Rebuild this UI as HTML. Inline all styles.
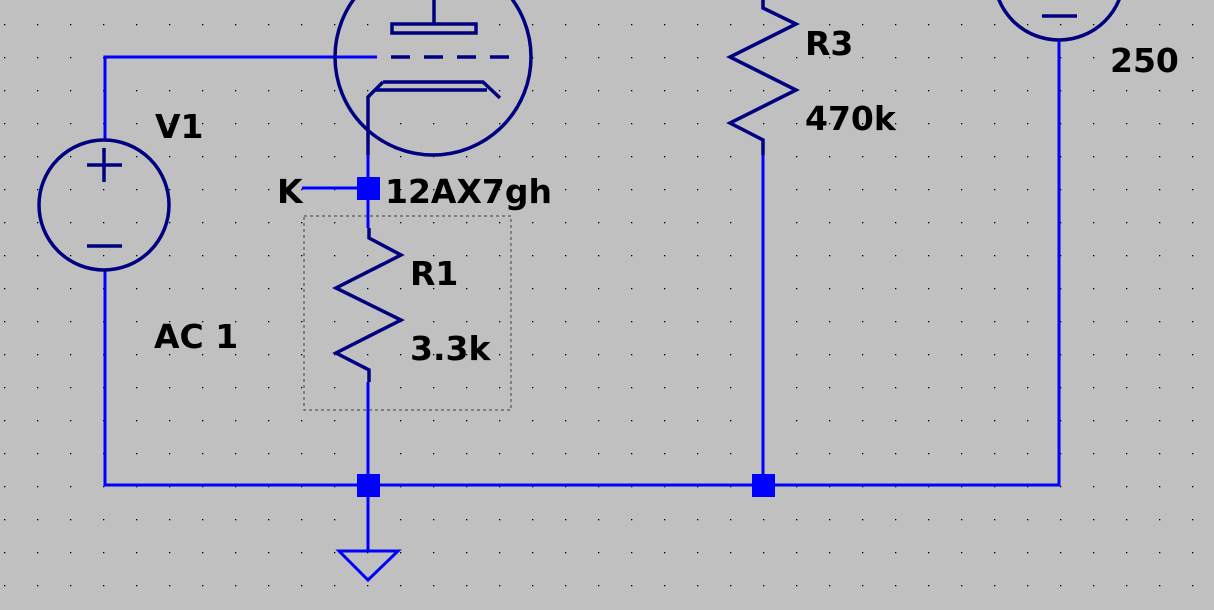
<!DOCTYPE html>
<html><head><style>
body{margin:0;background:#c0c0c0;}
svg{display:block}
text{font-family:"DejaVu Sans","Liberation Sans",sans-serif;font-weight:bold;font-size:33px;fill:#000}
</style></head><body>
<svg width="1214" height="610" xmlns="http://www.w3.org/2000/svg">
<defs><pattern id="g" x="4" y="24" width="33" height="33" patternUnits="userSpaceOnUse"><rect x="0" y="0" width="1.3" height="1.3" fill="#000"/></pattern></defs>
<rect width="1214" height="610" fill="#c0c0c0"/>
<rect width="1214" height="610" fill="url(#g)"/>
<g stroke="#0000ff" stroke-width="3" fill="none">
<path d="M105 140V57H377"/>
<path d="M105 270V485H1059V40"/>
<path d="M368 155V228M368 382V485M368 485V551"/>
<path d="M302 188H368"/>
<path d="M763 155V485"/>
<path d="M339 551H398L368 580Z"/>
</g>
<g fill="#0000ff">
<rect x="357" y="177" width="23" height="23"/>
<rect x="357" y="474" width="23" height="23"/>
<rect x="752" y="474" width="23" height="23"/>
</g>
<g stroke="#000080" stroke-width="3.5" fill="none">
<circle cx="433" cy="57" r="98"/>
<rect x="392" y="24" width="84" height="9"/>
<path d="M434 0V24"/>
<path d="M391 57H410M424 57H443M457 57H476M490 57H509"/>
<path d="M383 82H483L500 98M375 90H487M383 82L368 97V155"/>
<circle cx="104" cy="205" r="65"/>
<path d="M87 165H122M104 148V182M87 246H122"/>
<circle cx="1059" cy="-25" r="65"/>
<path d="M1042 16H1077"/>
<path d="M369 228V238L401 255L336 288L401 320L336 353L369 370V382"/>
<path d="M763 0V8L796 24L730 57L796 90L730 123L763 140V155"/>
</g>
<rect x="304" y="216" width="207" height="194" fill="none" stroke="#404040" stroke-width="1" stroke-dasharray="3,3"/>
<text x="155" y="138">V1</text>
<text x="154" y="348">AC 1</text>
<text x="277" y="203">K</text>
<text x="385" y="203">12AX7gh</text>
<text x="410" y="285">R1</text>
<text x="410" y="360">3.3k</text>
<text x="805" y="55">R3</text>
<text x="805" y="130">470k</text>
<text x="1110" y="72">250</text>
</svg>
</body></html>
